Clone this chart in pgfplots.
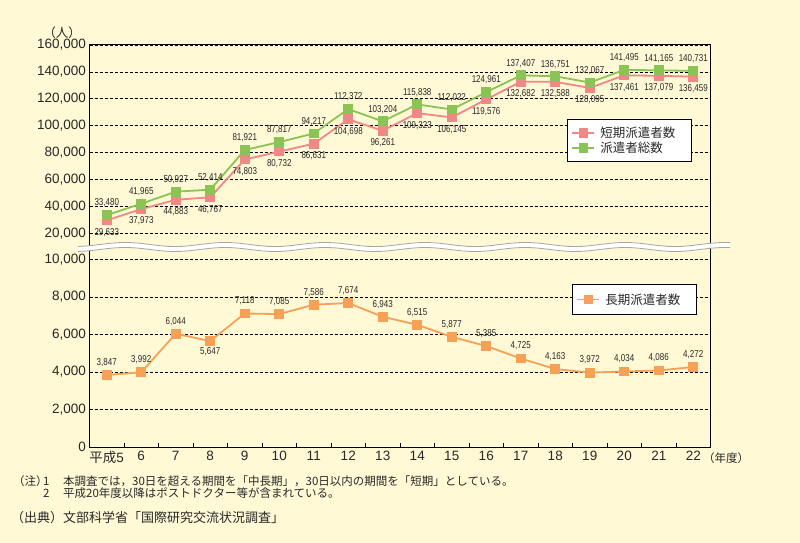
\documentclass[border=0pt]{standalone}
\usepackage{fontspec}
\usepackage{pgfplots}
\pgfplotsset{compat=1.18}
\usepackage{pgfplotstable}
\setmainfont{Liberation Sans}
\newfontfamily\cjk{Noto Sans CJK JP}
\newfontfamily\narrow[FakeStretch=0.8]{Liberation Sans}
\definecolor{bg}{RGB}{255,249,214}
\definecolor{cred}{RGB}{242,135,135}
\definecolor{cgreen}{RGB}{137,196,84}
\definecolor{corange}{RGB}{247,161,86}
\definecolor{txt}{RGB}{40,40,40}

\pgfplotstableread{
x short total
0 29633 33480
1 37973 41965
2 44883 50927
3 46767 52414
4 74803 81921
5 80732 87817
6 86631 94217
7 104698 112372
8 96261 103204
9 109323 115838
10 106145 112022
11 119576 124961
12 132682 137407
13 132588 136751
14 128095 132067
15 137461 141495
16 137079 141165
17 136459 140731
}\toptbl

\pgfplotstableread{
x long lab
0 3847 3,847
1 3992 3,992
2 6044 6,044
3 5647 {}
4 7118 7,118
5 7085 7,085
6 7586 7,586
7 7674 7,674
8 6943 6,943
9 6515 6,515
10 5877 5,877
11 5385 5,385
12 4725 4,725
13 4163 4,163
14 3972 3,972
15 4034 4,034
16 4086 4,086
17 4272 4,272
}\bottbl

\pgfplotsset{
  common/.style={
    scale only axis, width=621pt, xmin=-0.5, xmax=17.5,
    axis line style={line width=1pt, black},
    ymajorgrids,
    grid style={black, line width=0.6pt, dash pattern=on 3pt off 2pt},
    yticklabel style={font=\fontsize{13.5}{14}\selectfont, text=txt},
    /pgf/number format/fixed,
    /pgf/number format/precision=0,
    /pgf/number format/1000 sep={,},
    /pgf/number format/assume math mode=true,
    major tick length=0pt,
    scaled y ticks=false,
    clip=false,
    tick style={black, line width=0.8pt},
    legend image code/.code={\draw[mark repeat=2,mark phase=2,##1] plot coordinates {(0pt,0pt) (11pt,0pt) (22pt,0pt)};},
    legend cell align=left,
  },
  lblfont/.style={
    every node near coord/.append style={font=\narrow\fontsize{10}{10}\selectfont, text=txt, anchor=center, inner sep=0pt},
  },
  lbl/.style={
    point meta=y,
    nodes near coords={\pgfmathprintnumber[fixed,precision=0,1000 sep={,},assume math mode=true]{\pgfplotspointmeta}},
    lblfont,
  },
}

\begin{document}
\begin{tikzpicture}[x=1pt,y=1pt]
\fill[bg] (0,0) rectangle (800,543);
\useasboundingbox (0,0) rectangle (800,543);

% top axis
\begin{axis}[common,
  at={(89.5pt,296pt)}, anchor=south west, height=202pt,
  ymin=9800, ymax=160000,
  ytick={20000,40000,60000,80000,100000,120000,140000,160000},
  xtick=\empty,
  legend style={at={(0.769,0.634)}, anchor=north west, draw=black, line width=1pt, fill=white,
    font=\cjk\fontsize{12.5}{13}\selectfont, text=txt, inner xsep=4pt, inner ysep=5.5pt, row sep=-1pt,
    /tikz/every odd column/.append style={column sep=3pt}},
]
\addplot[cred, line width=1.8pt, mark=square*, mark size=4pt, mark options={solid},
  lbl, every node near coord/.append style={yshift=-12pt}]
  table[x=x,y=short]{\toptbl};
\addlegendentry{短期派遣者数\rule{10pt}{0pt}}
\addplot[cgreen, line width=1.8pt, mark=square*, mark size=4pt, mark options={solid},
  lbl, every node near coord/.append style={yshift=12pt}]
  table[x=x,y=total]{\toptbl};
\addlegendentry{派遣者総数}
\end{axis}

% bottom axis
\begin{axis}[common,
  at={(89.5pt,95.7pt)}, anchor=south west, height=200.3pt,
  ymin=0, ymax=10654,
  ytick={0,2000,4000,6000,8000,10000},
  xtick={0,...,17},
  xticklabels={{\cjk 平成}5,6,7,8,9,10,11,12,13,14,15,16,17,18,19,20,21,22},
  xticklabel style={font=\fontsize{13.5}{14}\selectfont, text=txt},
  minor xtick={0.5,1.5,...,16.5},
  minor tick length=4.5pt,
  tick align=inside,
  xtick pos=left, ytick pos=left,
  legend style={at={(0.777,0.815)}, anchor=north west, draw=black, line width=1pt, fill=white,
    font=\cjk\fontsize{12.5}{13}\selectfont, text=txt, inner xsep=4pt, inner ysep=7pt,
    /tikz/every odd column/.append style={column sep=3pt}},
]
\addplot[corange, line width=1.8pt, mark=square*, mark size=4pt, mark options={solid},
  point meta=explicit symbolic, nodes near coords, lblfont,
  every node near coord/.append style={yshift=12.5pt}]
  table[x=x,y=long,meta=lab]{\bottbl};
\addlegendentry{長期派遣者数\rule{10pt}{0pt}}
\addplot[draw=none, mark=none, forget plot,
  point meta=explicit symbolic, nodes near coords, lblfont,
  every node near coord/.append style={yshift=-11pt}]
  coordinates {(3,5647) [5,647]};
\end{axis}

% axis break
\fill[white] plot[domain=78:730, samples=120, smooth] (\x, {298.5+2*sin(\x*3.6)}) --
  plot[domain=730:78, samples=120, smooth] (\x, {293.5+2*sin(\x*3.6)}) -- cycle;
\draw[gray!70, line width=0.8pt] plot[domain=78:730, samples=120, smooth] (\x, {298.5+2*sin(\x*3.6)});
\draw[gray!70, line width=0.8pt] plot[domain=78:730, samples=120, smooth] (\x, {293.5+2*sin(\x*3.6)});

% labels
\node[font=\cjk\fontsize{12.5}{13}\selectfont, text=txt] at (62,510) {（人）};
\node[font=\cjk\fontsize{11.5}{12}\selectfont, text=txt, anchor=west, inner sep=0pt] at (703,85) {（年度）};

\node[font=\cjk\fontsize{11.5}{12}\selectfont, text=txt, anchor=west, inner sep=0pt] at (13,62) {（注）};
\node[font=\cjk\fontsize{11.5}{12}\selectfont, text=txt, anchor=west, inner sep=0pt] at (43,62) {1};
\node[font=\cjk\fontsize{11.5}{12}\selectfont, text=txt, anchor=west, inner sep=0pt] at (63,62) {本調査では，30日を超える期間を「中長期」，30日以内の期間を「短期」としている。};
\node[font=\cjk\fontsize{11.5}{12}\selectfont, text=txt, anchor=west, inner sep=0pt] at (43,50) {2};
\node[font=\cjk\fontsize{11.5}{12}\selectfont, text=txt, anchor=west, inner sep=0pt] at (63,50) {平成20年度以降はポストドクター等が含まれている。};
\node[font=\cjk\fontsize{13}{14}\selectfont, text=txt, anchor=west, inner sep=0pt] at (11,25) {（出典）文部科学省「国際研究交流状況調査」};
\end{tikzpicture}
\end{document}
